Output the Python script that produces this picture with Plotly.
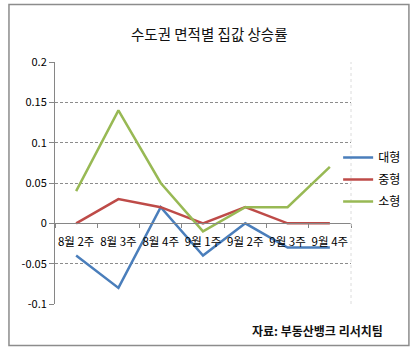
import plotly.graph_objects as go

categories = ["8월 2주", "8월 3주", "8월 4주", "9월 1주", "9월 2주", "9월 3주", "9월 4주"]
large = [-0.04, -0.08, 0.02, -0.04, 0.0, -0.03, -0.03]
medium = [0.0, 0.03, 0.02, 0.0, 0.02, 0.0, 0.0]
small = [0.04, 0.14, 0.05, -0.01, 0.02, 0.02, 0.07]
series_names = ["대형", "중형", "소형"]
series_colors = ["#4A7EBB", "#BE4B48", "#98B954"]
ytick_vals = [-0.1, -0.05, 0, 0.05, 0.1, 0.15, 0.2]
ytick_text = ["-0.1", "-0.05", "0", "0.05", "0.1", "0.15", "0.2"]
title_text = "수도권 면적별 집값 상승률"
source_text = "자료: 부동산뱅크 리서치팀"

FONT = "Noto Sans CJK KR"

fig = go.Figure()
for name, vals, col in zip(series_names, [large, medium, small], series_colors):
    fig.add_trace(go.Scatter(x=categories, y=vals, mode="lines", name=name,
                             legendgroup=name,
                             line=dict(color=col, width=2.5)))

W, H = 418, 353
L, R, T, B = 55, 64, 62, 49
pw = W - L - R
ph = H - T - B

def px_x(x):
    return (x - L) / pw

def px_y(y):
    return (H - B - y) / ph

fig.update_layout(
    width=W, height=H,
    margin=dict(l=L, r=R, t=T, b=B),
    paper_bgcolor="white", plot_bgcolor="white",
    font=dict(family=FONT, size=11, color="#000"),
    showlegend=True,
    legend=dict(x=px_x(341), y=px_y(143), xanchor="left", yanchor="top",
                font=dict(family=FONT, size=12, color="#000"),
                itemwidth=30, tracegroupgap=3, traceorder="grouped",
                bgcolor="rgba(0,0,0,0)", borderwidth=0),
    xaxis=dict(type="category", range=[-0.5, 6.5], anchor="free", position=1/3,
               showline=True, linecolor="#868686", linewidth=1,
               ticks="outside", tickson="boundaries", ticklen=4, tickcolor="#868686",
               showgrid=False, zeroline=False, tickangle=0,
               tickfont=dict(family=FONT, size=11.5, color="#000"),
               ticklabelstandoff=8),
    yaxis=dict(range=[-0.1, 0.2], tickvals=ytick_vals, ticktext=ytick_text,
               showline=True, linecolor="#868686", linewidth=1,
               ticks="outside", ticklen=5, tickcolor="#868686",
               showgrid=True, gridcolor="#8c8c8c", griddash="3px,2px", gridwidth=1,
               zeroline=False,
               tickfont=dict(family=FONT, size=11, color="#000")),
)

# plot-area right edge (light dashed) and outer border
fig.add_shape(type="line", xref="paper", yref="paper", x0=1, x1=1, y0=0, y1=1,
              line=dict(color="#dcdcdc", width=1, dash="dot"))
fig.add_shape(type="rect", xref="paper", yref="paper",
              x0=px_x(8.5), x1=px_x(412.5), y0=px_y(345.5), y1=px_y(4.5),
              line=dict(color="#8c8c8c", width=1.5), fillcolor="rgba(0,0,0,0)", layer="below")

fig.add_annotation(text=title_text, xref="paper", yref="paper",
                   x=px_x(211), y=px_y(33), xanchor="center", yanchor="middle",
                   showarrow=False, font=dict(family=FONT, size=14.5, color="#111"))
fig.add_annotation(text="<b>" + source_text + "</b>", xref="paper", yref="paper",
                   x=px_x(388), y=px_y(330), xanchor="right", yanchor="middle",
                   showarrow=False, font=dict(family=FONT, size=12, color="#111"))

fig.write_html("out.html")
